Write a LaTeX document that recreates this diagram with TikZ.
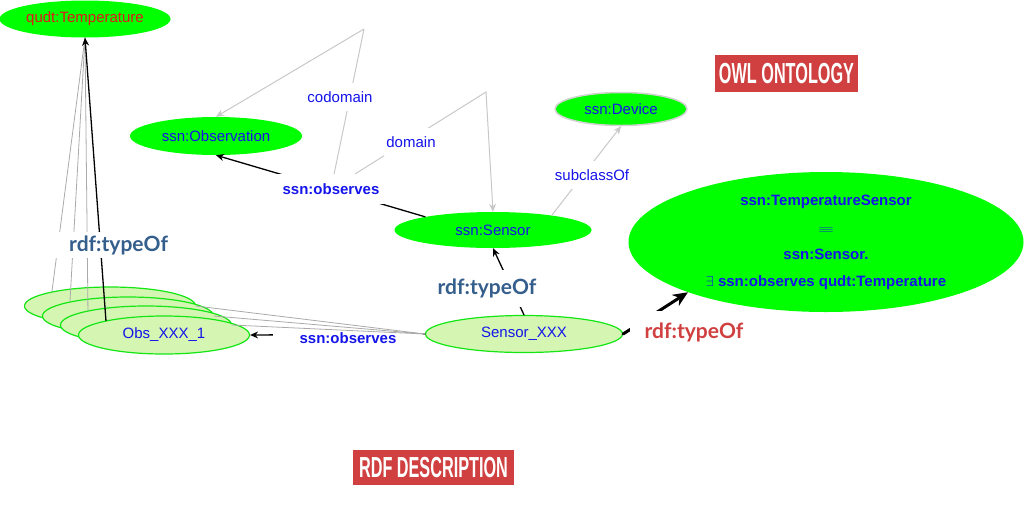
\documentclass[tikz,border=0pt]{standalone}
\usepackage{fontspec}
\setmainfont{Liberation Sans}
\newfontfamily\typefont{Lato}
\newfontfamily\bannerfont{Liberation Sans}[FakeStretch=0.56]
\usetikzlibrary{shapes.geometric,arrows.meta}

\definecolor{owlgreen}{RGB}{0,255,0}
\definecolor{rdfgreen}{RGB}{212,246,178}
\definecolor{rdfedge}{RGB}{20,230,20}
\definecolor{txtblue}{RGB}{20,20,235}
\definecolor{typeblue}{RGB}{52,94,140}
\definecolor{bannerred}{RGB}{208,64,64}
\definecolor{linegray}{RGB}{200,200,200}
\definecolor{obsgray}{RGB}{170,170,170}

\tikzset{
  owlclass/.style={ellipse, fill=owlgreen, inner sep=0pt, text=txtblue, font=\fontsize{15}{18}\selectfont},
  rdfind/.style={ellipse, fill=rdfgreen, draw=rdfedge, line width=1.2pt, inner sep=0pt,
    minimum width=171pt, minimum height=38pt, text=txtblue, font=\fontsize{15}{18}\selectfont},
  proplbl/.style={fill=white, inner sep=1pt, text=txtblue, font=\fontsize{15}{18}\selectfont\bfseries},
  axislbl/.style={fill=white, inner xsep=2pt, inner ysep=8pt, text=txtblue, font=\fontsize{15}{18}\selectfont},
  typelbl/.style={fill=white, inner sep=2pt, text=typeblue, font=\typefont\fontsize{21}{24}\selectfont\bfseries},
  banner/.style={fill=bannerred, inner sep=0pt, text=white, font=\bannerfont\fontsize{29}{30}\selectfont\bfseries},
  relarrow/.style={-{Stealth[length=8pt,width=7pt]}, line width=1.3pt},
  axisarrow/.style={-{Stealth[length=8pt,width=7pt]}, draw=linegray, line width=1pt},
  obsline/.style={draw=obsgray, line width=0.8pt}
}

\begin{document}
\begin{tikzpicture}[x=1pt, y=-1pt, line cap=round, line join=round]
    \useasboundingbox (0,0) rectangle (1024,504);

    % OWL classes
    \node[owlclass, text={rgb,255:red,225;green,25;blue,25}, minimum width=171pt, minimum height=37pt] (temp) at (85,19) {qudt:Temperature};
    \node[owlclass, minimum width=172pt, minimum height=38pt] (observation) at (216,136) {ssn:Observation};
    \node[owlclass, draw=gray!35, line width=1.5pt, minimum width=132pt, minimum height=33pt] (device) at (621,109) {ssn:Device};
    \node[owlclass, minimum width=197pt, minimum height=36pt] (sensor) at (493,230) {ssn:Sensor};
    \node[owlclass, font=\fontsize{15}{27}\selectfont\bfseries, align=center, minimum width=395pt, minimum height=140pt] (tempsensor) at (826,242)
        {ssn:TemperatureSensor\\ \resizebox{16pt}{5pt}{$\equiv$}\\ ssn:Sensor.\\ $\exists$ ssn:observes qudt:Temperature};

    % RDF individuals
    \node[rdfind] (obsa) at (110,306) {};
    \node[rdfind] (obsb) at (128,316) {};
    \node[rdfind] (obsc) at (146,325) {};
    \node[rdfind] (obsd) at (164,335) {Obs\_XXX\_1};
    \node[rdfind, minimum width=197pt, minimum height=37pt] (sx) at (524,334) {Sensor\_XXX};

    % relations under the labels
    \foreach \o in {obsa,obsb,obsc}
        \draw[obsline] (\o.166) -- (temp.south);
    \draw[relarrow] (obsd.166) -- (temp.south);
    \draw[relarrow] (sx.west) -- (obsd.east);
    \draw[relarrow] (sensor.169) -- (observation.south);
    \draw[relarrow] (sx.north) -- (sensor.south);
    \draw[-{Stealth[length=15pt,width=13pt]}, line width=3pt] (sx.east) -- (tempsensor.200);

    % property labels
    \node[proplbl, minimum width=115pt, minimum height=30pt] (obsprop) at (331,189) {ssn:observes};
    \node[proplbl, minimum width=150pt] (obsrel) at (348,338) {ssn:observes};
    \node[typelbl, text width=112pt, align=right, minimum height=26pt] (typeobs) at (112,245) {rdf:typeOf};
    \node[typelbl, minimum width=104pt, minimum height=37pt] (typesensor) at (487,288) {rdf:typeOf};
    \node[typelbl, text=bannerred, minimum width=128pt, minimum height=42pt] (typetemp) at (694,332) {rdf:typeOf};

    \foreach \o in {obsa,obsb,obsc}
        \draw[obsline] (sx.west) -- (\o.east);

    % domain and codomain
    \coordinate (codom) at (364,29);
    \coordinate (dom) at (486,92);
    \draw[axisarrow] (obsprop) -- (codom) -- (observation.north);
    \draw[axisarrow] (obsprop) -- (dom) -- (sensor.north);
    \draw[axisarrow] (sensor.14) -- (device.south);
    \node[axislbl] (codomlbl) at (340,97) {codomain};
    \node[axislbl] (domlbl) at (411,142) {domain};
    \node[axislbl] (sublbl) at (592,175) {subclassOf};

    % banners
    \node[banner, minimum width=143pt, minimum height=37pt] (owlbanner) at (786.5,73.5) {OWL ONTOLOGY};
    \node[banner, minimum width=161pt, minimum height=35pt] (rdfbanner) at (433.5,467.5) {RDF DESCRIPTION};
\end{tikzpicture}
\end{document}
